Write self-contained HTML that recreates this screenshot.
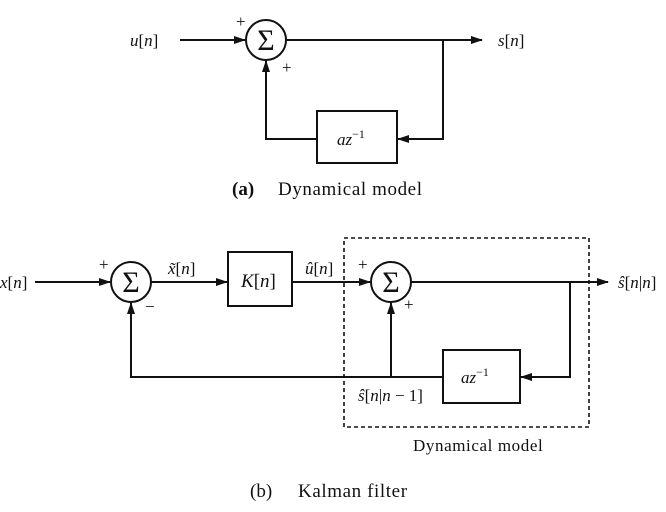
<!DOCTYPE html>
<html><head><style>
html,body{margin:0;padding:0;background:#fff;}
svg{display:block;}
text{font-family:"Liberation Serif",serif;fill:#111;}
.i{font-style:italic;}
</style></head><body>
<svg width="666" height="512" viewBox="0 0 666 512" xmlns="http://www.w3.org/2000/svg">
<defs>
<marker id="a" markerWidth="12" markerHeight="8" refX="11" refY="4" orient="auto" markerUnits="userSpaceOnUse">
<path d="M0,0 L12,4 L0,8 Z" fill="#111"/></marker>
</defs>
<g stroke="#111" stroke-width="2" fill="none">
<circle cx="266" cy="40" r="20"/>
<line x1="180" y1="40" x2="245" y2="40" marker-end="url(#a)"/>
<line x1="286" y1="40" x2="482" y2="40" marker-end="url(#a)"/>
<polyline points="443,40 443,139 398,139" marker-end="url(#a)"/>
<rect x="317" y="111" width="80" height="52"/>
<polyline points="317,139 266,139 266,61" marker-end="url(#a)"/>
<circle cx="131" cy="282" r="20"/>
<line x1="35" y1="282" x2="110" y2="282" marker-end="url(#a)"/>
<line x1="151" y1="282" x2="227" y2="282" marker-end="url(#a)"/>
<rect x="228" y="252" width="64" height="54"/>
<line x1="292" y1="282" x2="370" y2="282" marker-end="url(#a)"/>
<circle cx="391" cy="282" r="20"/>
<line x1="411" y1="282" x2="608" y2="282" marker-end="url(#a)"/>
<polyline points="570,282 570,377 521,377" marker-end="url(#a)"/>
<rect x="443" y="350" width="77" height="53"/>
<polyline points="443,377 131,377 131,303" marker-end="url(#a)"/>
<line x1="391" y1="377" x2="391" y2="303" marker-end="url(#a)"/>
<rect x="344" y="238" width="245" height="189" stroke-width="1.6" stroke-dasharray="4,3"/>
</g>
<text x="266" y="50" font-size="30" text-anchor="middle">Σ</text>
<text x="131" y="292" font-size="30" text-anchor="middle">Σ</text>
<text x="391" y="292" font-size="30" text-anchor="middle">Σ</text>
<text x="236" y="27" font-size="17">+</text>
<text x="282" y="73" font-size="17">+</text>
<text x="130" y="46" font-size="17" class="i">u<tspan font-style="normal">[</tspan>n<tspan font-style="normal">]</tspan></text>
<text x="498" y="46" font-size="17" class="i">s<tspan font-style="normal">[</tspan>n<tspan font-style="normal">]</tspan></text>
<text x="337" y="145" font-size="17" class="i">az<tspan font-style="normal" font-size="12" dy="-7">−1</tspan></text>
<text y="195" font-size="19"><tspan x="232" font-weight="bold">(a)</tspan><tspan x="278" letter-spacing="0.6">Dynamical model</tspan></text>
<text x="99" y="270" font-size="17">+</text>
<text x="145" y="312" font-size="17">−</text>
<text x="0" y="288" font-size="17" class="i">x<tspan font-style="normal">[</tspan>n<tspan font-style="normal">]</tspan></text>
<text x="168" y="274" font-size="17" class="i">x̃<tspan font-style="normal">[</tspan>n<tspan font-style="normal">]</tspan></text>
<text x="241" y="287" font-size="19" class="i">K<tspan font-style="normal">[</tspan>n<tspan font-style="normal">]</tspan></text>
<text x="305" y="274" font-size="17" class="i">û<tspan font-style="normal">[</tspan>n<tspan font-style="normal">]</tspan></text>
<text x="358" y="270" font-size="17">+</text>
<text x="404" y="310" font-size="17">+</text>
<text x="618" y="288" font-size="17" class="i">ŝ<tspan font-style="normal">[</tspan>n<tspan font-style="normal">|</tspan>n<tspan font-style="normal">]</tspan></text>
<text x="461" y="383" font-size="17" class="i">az<tspan font-style="normal" font-size="12" dy="-7">−1</tspan></text>
<text x="358" y="401" font-size="17" class="i">ŝ<tspan font-style="normal">[</tspan>n<tspan font-style="normal">|</tspan>n<tspan font-style="normal"> − 1]</tspan></text>
<text x="413" y="451" font-size="17" letter-spacing="0.6">Dynamical model</text>
<text y="497" font-size="19"><tspan x="250">(b)</tspan><tspan x="298" letter-spacing="0.6">Kalman filter</tspan></text>
</svg>
</body></html>
